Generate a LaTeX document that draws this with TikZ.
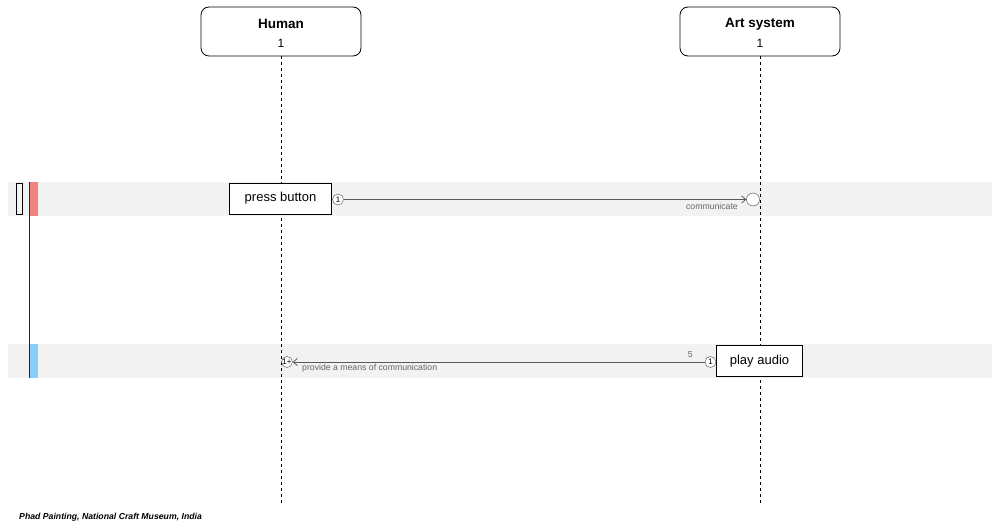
\documentclass[tikz,border=0pt]{standalone}
\usepackage{fontspec}
\setmainfont{Liberation Sans}
\usetikzlibrary{arrows.meta}
\definecolor{bandgray}{HTML}{F2F2F2}
\definecolor{redbar}{HTML}{F08282}
\definecolor{bluebar}{HTML}{87CEFA}
\definecolor{labgray}{HTML}{666666}
\begin{document}
\begin{tikzpicture}[x=1pt,y=-1pt,
  actor/.style={draw,thick,rounded corners=8pt,minimum width=160pt,minimum height=49pt,inner sep=0pt},
  lifeline/.style={thick,dash pattern=on 3pt off 3pt},
  band/.style={fill=bandgray,draw=none},
  task/.style={draw,fill=white,inner sep=0pt,font=\fontsize{13}{15}\selectfont},
  port/.style={circle,draw=black!70,fill=white,inner sep=0pt,minimum size=11pt,font=\fontsize{8}{9}\selectfont},
  msg/.style={draw=black!65,line width=0.8pt,-{Straight Barb[length=4pt,width=7pt]}},
  lab/.style={text=labgray,font=\fontsize{8.7}{10}\selectfont,inner sep=0pt}]
\useasboundingbox (0,0) rectangle (992,524);
% interaction bands
\fill[band] (8,182) rectangle (992,216);
\fill[band] (8,344) rectangle (992,378);
% actors
\node[actor] (human) at (281,31.5) {};
\node[font=\bfseries\fontsize{13.5}{15}\selectfont] (humanname) at (281,24) {Human};
\node[font=\fontsize{12}{14}\selectfont] (humancount) at (281,43) {1};
\node[actor] (art) at (760,31.5) {};
\node[font=\bfseries\fontsize{13.5}{15}\selectfont] (artname) at (760,24) {Art system};
\node[font=\fontsize{12}{14}\selectfont] (artcount) at (760,43) {1};
\coordinate (humanend) at (281,506);
\coordinate (artend) at (760,506);
\draw[lifeline] (human.south) -- (humanend);
\draw[lifeline] (art.south) -- (artend);
% left margin markers
\fill[redbar] (29,182) rectangle (38,216);
\fill[bluebar] (29,344) rectangle (38,378);
\draw[line width=1.5pt,black!85] (29.5,182) -- (29.5,378);
\draw[thick] (16,183.5) rectangle (22.5,214.5);
% first interaction
\node[task,minimum width=102pt,minimum height=31pt] (press) at (280.5,198.5) {press button};
\node[port] (p1) at (338,199.5) {1};
\node[circle,draw=black!75,fill=white,minimum size=13pt,inner sep=0pt] (recv1) at (753,199.5) {};
\draw[msg] (p1) -- (recv1);
\node[lab,anchor=north east] (comm) at (738,202.5) {communicate};
% second interaction
\node[task,minimum width=86pt,minimum height=31pt] (audio) at (759.5,361) {play audio};
\node[port] (p2) at (710.5,362) {1};
\node[port] (recv2) at (287,362) {1+};
\draw[msg] (p2) -- (recv2);
\node[lab,anchor=south east] (five) at (693,358) {5};
\node[lab,anchor=north west] (means) at (302,364) {provide a means of communication};
% caption
\node[anchor=base west,inner sep=0pt,font=\bfseries\itshape\fontsize{8.7}{10}\selectfont] (caption) at (19,519) {Phad Painting, National Craft Museum, India};
\end{tikzpicture}
\end{document}
